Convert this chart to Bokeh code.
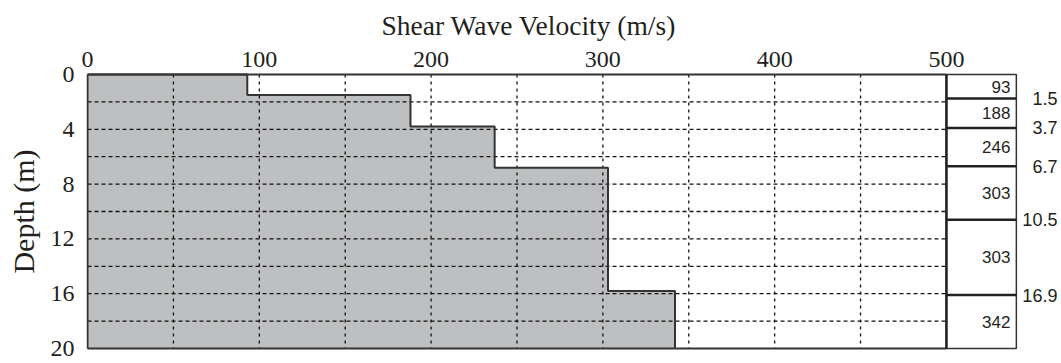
from bokeh.plotting import figure
from bokeh.models import Range1d, FixedTicker, Title
from bokeh.core.properties import value
from bokeh.embed import file_html
from bokeh.resources import INLINE

# ---- data ----
x_ticks = [0, 100, 200, 300, 400, 500]
y_ticks = [0, 4, 8, 12, 16, 20]
x_grid = [50, 100, 150, 200, 250, 300, 350, 400, 450]
y_grid = [2, 4, 6, 8, 10, 12, 14, 16, 18]

# shear wave velocity profile as drawn (velocity per layer, bottom depth of layer)
layer_vs = [93, 188, 237, 303, 342]
layer_bottom = [1.5, 3.8, 6.8, 15.8, 20]

# side table as drawn
table_bounds = [0, 1.75, 3.9, 6.7, 10.6, 16.1, 20]
table_vs_text = ["93", "188", "246", "303", "303", "342"]
table_depth_text = ["1.5", "3.7", "6.7", "10.5", "16.9"]

SERIF = "Liberation Serif"
SANS = "Liberation Sans"
INK = "#231f20"

p = figure(width=1060, height=362,
           x_range=Range1d(-0.6, 566.4), y_range=Range1d(20.15, -0.15),
           x_axis_location="above", output_backend="svg", toolbar_location=None,
           min_border_left=86, min_border_right=0, min_border_top=72, min_border_bottom=12)
p.outline_line_color = None
p.grid.visible = False
p.background_fill_color = "white"
p.border_fill_color = "white"

t = Title(text="Shear Wave Velocity (m/s)", align="left", offset=295,
          text_font=SERIF, text_font_size="27.5px", text_font_style="normal",
          text_color=INK, standoff=15)
p.add_layout(t, "above")

xa = p.xaxis[0]
xa.ticker = FixedTicker(ticks=x_ticks)
xa.axis_line_color = None
xa.major_tick_line_color = None
xa.minor_tick_line_color = None
xa.major_label_text_font = SERIF
xa.major_label_text_font_size = "24px"
xa.major_label_text_color = INK
xa.major_label_standoff = 0

ya = p.yaxis[0]
ya.ticker = FixedTicker(ticks=y_ticks)
ya.axis_line_color = None
ya.major_tick_line_color = None
ya.minor_tick_line_color = None
ya.major_label_text_font = SERIF
ya.major_label_text_font_size = "24px"
ya.major_label_text_color = INK
ya.major_label_standoff = 6
ya.axis_label = "Depth (m)"
ya.axis_label_text_font = SERIF
ya.axis_label_text_font_size = "30px"
ya.axis_label_text_font_style = "normal"
ya.axis_label_text_color = INK
ya.axis_label_standoff = 8

# ---- profile polygon ----
px = [0]
py = [0]
top = 0
for v, b in zip(layer_vs, layer_bottom):
    px += [v, v]
    py += [top, b]
    top = b
px += [0]
py += [layer_bottom[-1]]
p.patch(px, py, fill_color="#bebfc1", line_color=None)

# ---- dashed grid ----
p.segment(x0=x_grid, y0=[0] * len(x_grid), x1=x_grid, y1=[20] * len(x_grid),
          line_color="#111111", line_width=1.3, line_dash="3 4")
p.segment(x0=[0] * len(y_grid), y0=y_grid, x1=[500] * len(y_grid), y1=y_grid,
          line_color="#111111", line_width=1.3, line_dash="4 3")

# ---- profile outline ----
p.line(px[:-1], py[:-1], line_color="#333333", line_width=2)

# ---- plot frame ----
p.segment(x0=[0, 0, 0], y0=[0, 20, 0], x1=[500, 500, 0], y1=[0, 20, 20],
          line_color="#333333", line_width=2)

# ---- side table ----
TL, TR = 500, 540.7
p.quad(left=[TL], right=[TR], top=[table_bounds[0]], bottom=[table_bounds[-1]],
       fill_color=None, line_color="#333333", line_width=1.5)
p.segment(x0=[TL], y0=[0], x1=[TL], y1=[20], line_color="#222222", line_width=2.5)
inner = table_bounds[1:-1]
p.segment(x0=[TL] * len(inner), y0=inner, x1=[TR] * len(inner), y1=inner,
          line_color="#222222", line_width=2.5)

mids = [(a + b) / 2 for a, b in zip(table_bounds[:-1], table_bounds[1:])]
p.text(x=[537.2] * len(mids), y=mids, text=table_vs_text,
       text_font=value(SANS), text_font_size="17px", text_color=INK,
       text_align="right", text_baseline="middle")
p.text(x=[564.6] * len(inner), y=inner, text=table_depth_text,
       text_font=value(SANS), text_font_size="18px", text_color=INK,
       text_align="right", text_baseline="middle")

open("out.html", "w").write(file_html(p, INLINE))
